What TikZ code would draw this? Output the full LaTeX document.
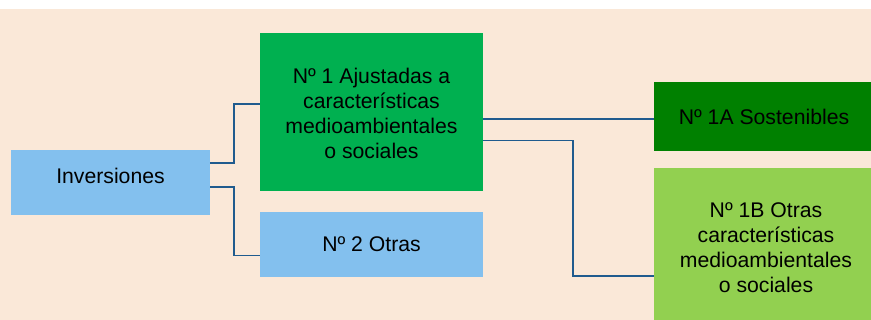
\documentclass[tikz,border=0pt]{standalone}
\usepackage{fontspec}
\setmainfont{Liberation Sans}
\definecolor{peach}{HTML}{FAE8D8}
\definecolor{lblue}{HTML}{83C0EE}
\definecolor{mgreen}{HTML}{00B050}
\definecolor{dgreen}{HTML}{008000}
\definecolor{lgreen}{HTML}{92D050}
\definecolor{conncol}{HTML}{1F5B8E}
\tikzset{
  boxnode/.style={rectangle, draw=none, inner sep=0pt, outer sep=0pt},
  txt/.style={inner sep=0pt, align=center, font=\fontsize{21.2}{25}\selectfont, text=black},
  conn/.style={draw=conncol, line width=1.8pt}
}
\begin{document}
\begin{tikzpicture}[x=1pt,y=-1pt]
\useasboundingbox (0,0) rectangle (871,320);
\fill[white] (0,0) rectangle (871,320);
\fill[peach] (0,9) rectangle (871,320);
% boxes
\node[boxnode, fill=lblue, minimum width=199pt, minimum height=65pt] (inv) at (110.5,182.5) {};
\node[boxnode, fill=mgreen, minimum width=223pt, minimum height=158pt] (g1) at (371.5,112) {};
\node[boxnode, fill=lblue, minimum width=223pt, minimum height=65pt] (o2) at (371.5,244.5) {};
\node[boxnode, fill=dgreen, minimum width=217pt, minimum height=69pt] (a1) at (762.5,116.5) {};
\node[boxnode, fill=lgreen, minimum width=217pt, minimum height=152pt] (b1) at (762.5,244) {};
% texts
\node[txt] (invt) at (110.5,175.5) {Inversiones};
\node[txt] (g1t) at (371.5,113) {Nº 1 Ajustadas a\\características\\medioambientales\\o sociales};
\node[txt] (o2t) at (371.5,244.5) {Nº 2 Otras};
\node[txt] (a1t) at (764,116.5) {Nº 1A Sostenibles};
\node[txt] (b1t) at (766,248) {Nº 1B Otras\\características\\medioambientales\\o sociales};
% connectors
\draw[conn] (inv.east |- 0,163) -| (234,104) -- (g1.west |- 0,104);
\draw[conn] (inv.east |- 0,187) -| (234,255.5) -- (o2.west |- 0,255.5);
\draw[conn] (g1.east |- 0,118.7) -- (a1.west |- 0,118.7);
\draw[conn] (g1.east |- 0,140.5) -| (572.7,275.7) -- (b1.west |- 0,275.7);
\end{tikzpicture}
\end{document}
